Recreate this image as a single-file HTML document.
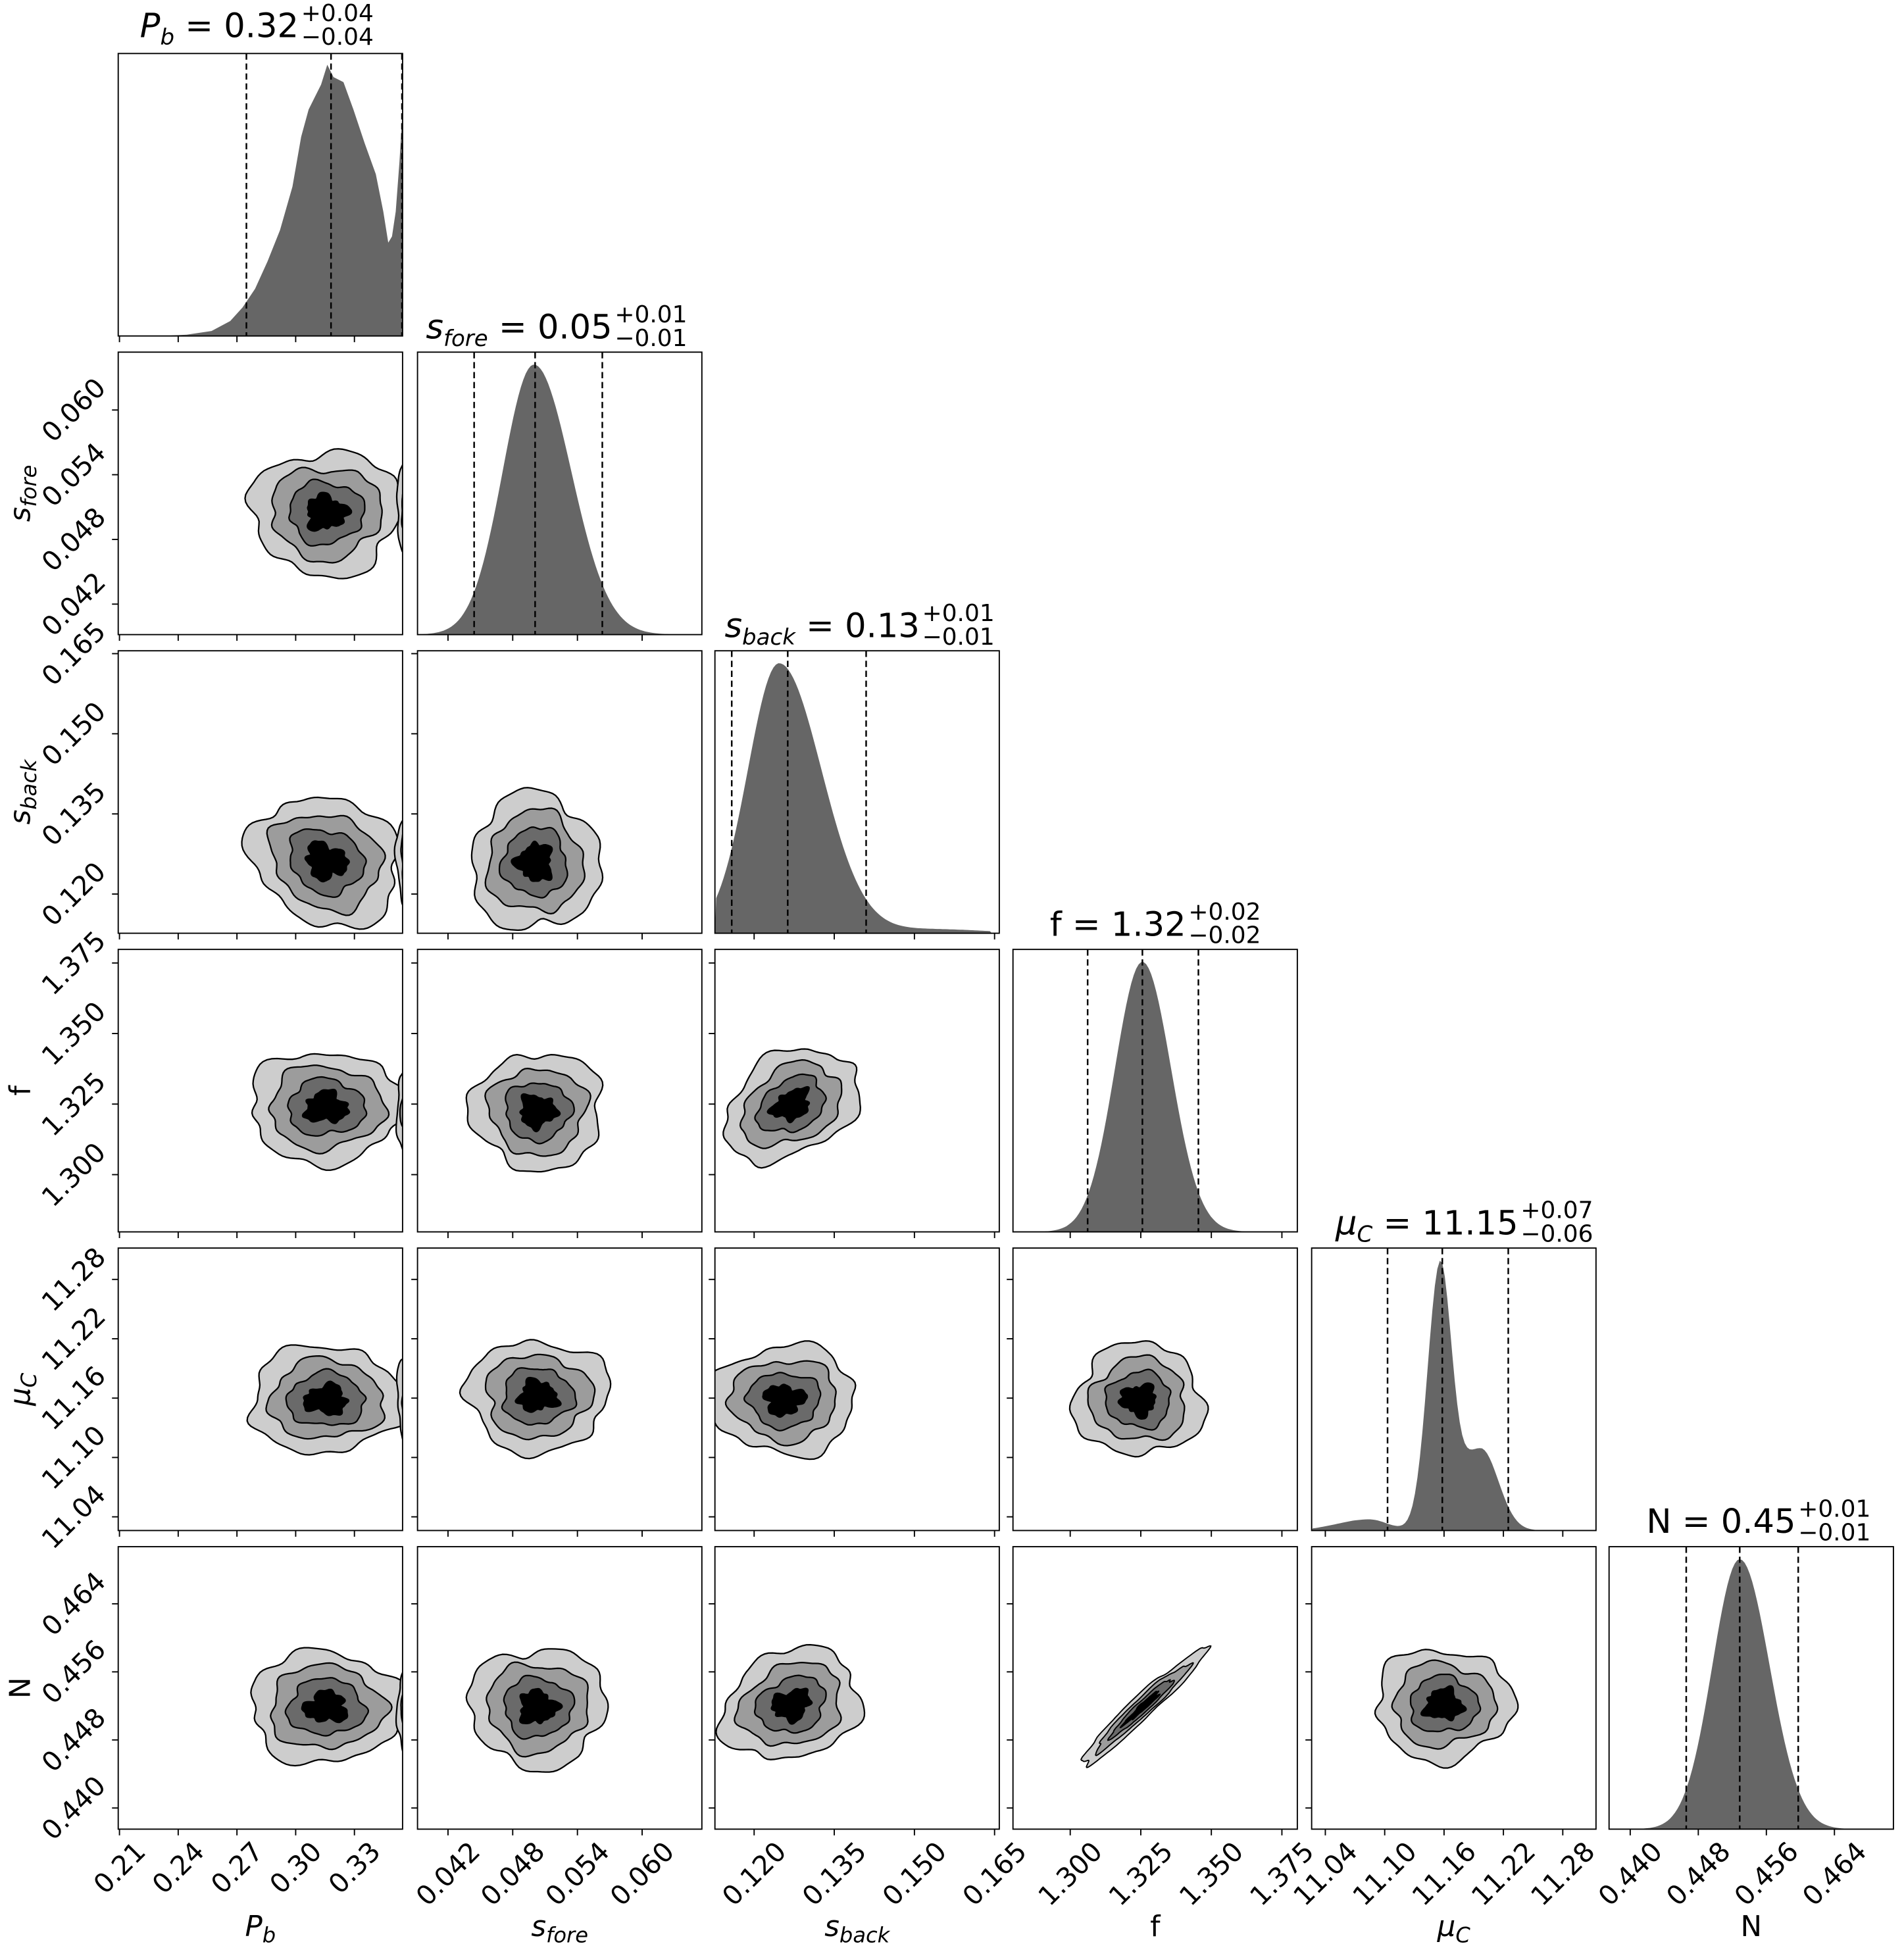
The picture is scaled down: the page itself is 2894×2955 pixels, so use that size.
<!DOCTYPE html>
<html><head><meta charset="utf-8"><style>html,body{margin:0;padding:0;background:#fff}svg{display:block}</style></head>
<body>
<svg id="s" xmlns="http://www.w3.org/2000/svg" width="2894" height="2955" viewBox="0 0 1530 1562.3" preserveAspectRatio="none" font-family="'DejaVu Sans','Liberation Sans',sans-serif"></svg>
<script>
const S=document.getElementById('s');let out='';
const X0=[95,335.5,574.5,814,1054,1293],Y0=[43,283,523,763,1003,1243],W=228.5,H=227;
const T=[
 {o:1,st:47.2,l:['0.21','0.24','0.27','0.30','0.33']},
 {o:24.5,st:52,l:['0.042','0.048','0.054','0.060']},
 {o:31.5,st:64.4,l:['0.120','0.135','0.150','0.165']},
 {o:46,st:56.7,l:['1.300','1.325','1.350','1.375']},
 {o:11,st:47.7,l:['11.04','11.10','11.16','11.22','11.28']},
 {o:17,st:54.7,l:['0.440','0.448','0.456','0.464']}];
const FS=21.5;
function tw(s){let w=0;for(const c of s)w+=(c=='.'?0.318:0.636);return w*FS;}
out+='<defs>';
for(let r=0;r<6;r++)for(let c=0;c<=r;c++)out+=`<clipPath id="c${r}${c}"><rect x="${X0[c]}" y="${Y0[r]}" width="${W}" height="${H}"/></clipPath>`;
out+='</defs>';
function noise(t,s){return 1+0.07*Math.sin(3*t+s)+0.05*Math.sin(5*t+2.3*s)+0.035*Math.sin(8*t+1.7*s)+0.02*Math.sin(13*t+s*0.7);}
function blob(cx,cy,rx,ry,rot,k,s){let p='';const a=rot*Math.PI/180;const amp=k<0.3?2.2:1;for(let i=0;i<=120;i++){const t=i/120*2*Math.PI;const n=1+(noise(t,s+k*3.1)-1)*amp;let x=rx*k*n*Math.cos(t),y=ry*k*n*Math.sin(t);const X=cx+x*Math.cos(a)-y*Math.sin(a),Y=cy+x*Math.sin(a)+y*Math.cos(a);p+=(i?'L':'M')+X.toFixed(1)+' '+Y.toFixed(1);}return p+'Z';}
const cols=['#cdcdcd','#9c9c9c','#6a6a6a','#000'],ks=[1,0.74,0.5,0.27];
function contour(cx,cy,rx,ry,rot,s,clip,sw){let g=`<g clip-path="url(#${clip})">`;for(let i=0;i<4;i++)g+=`<path d="${blob(cx,cy,rx,ry,rot,ks[i],s)}" fill="${cols[i]}" stroke="#000" stroke-width="${sw||1.2}"/>`;return g+'</g>';}
const B=[
[0,1,262,412,60,50,0],[0,2,262,692,62,50,25],[1,2,430,693,52,55,0],
[0,3,262,890,62,45,0],[1,3,432,893,53,47,0],[2,3,636,888,58,40,-30],
[0,4,262,1125,62,43,0],[1,4,432,1122,57,45,0],[2,4,630,1125,58,44,0],[3,4,915,1125,52,45,0],
[0,5,262,1372,62,45,0],[1,5,432,1372,55,48,0],[2,5,636,1370,57,43,-20],[3,5,918,1372,68,9,-43],[4,5,1160,1370,55,45,0]];
B.forEach((b,i)=>{const[c,r,cx,cy,rx,ry,rot]=b;out+=contour(cx,cy,rx,ry,rot,i*1.7+0.5,'c'+r+c,r==5&&c==3?1:1.2);
 if(c==0)out+=contour(333,cy,14,ry*0.95,0,i,'c'+r+c);});
function g(x,m,sl,sr){const s=x<m?sl:sr;return Math.exp(-0.5*((x-m)/s)**2);}
const P1=[[95,270],[130,270],[150,269],[170,266],[185,258],[195,247],[205,232],[215,210],[225,185],[235,150],[242,110],[248,88],[253,78],[258,68],[263,52],[268,62],[276,66],[284,88],[293,115],[302,140],[308,170],[312,195],[315,190],[318,170],[321,130],[324,80],[324,270]];
const hf=[null,
 x=>g(x,429,25,30),
 x=>g(x,626,25,34)+0.015*g(x,750,40,40),
 x=>g(x,918,22,23),
 x=>g(x,1157,10,9)+0.33*g(x,1190,20,14)+0.045*g(x,1100,25,15),
 x=>g(x,1398,22,24)];
function hist(c,r){const x0=X0[c],y0=Y0[r],yb=y0+H;let d;
 if(c==0){d='M'+P1.map(p=>p.join(' ')).join('L')+'Z';}
 else{const f=hf[c];let mx=0;for(let x=x0;x<=x0+W;x++)mx=Math.max(mx,f(x));d=`M${x0} ${yb}`;
  for(let x=x0+1;x<=x0+W-6;x+=2){const h=f(x)/mx*(H-10);d+=`L${x} ${(yb-h).toFixed(1)}`;}d+=`L${x0+W-6} ${yb}Z`;}
 return `<path d="${d}" fill="#666"/>`;}
const DL=[[198,266,323],[381,430,484],[588,633,696],[874,918,963],[1115,1159,1212],[1355,1398,1445]];
for(let i=0;i<6;i++){out+=`<g clip-path="url(#c${i}${i})">`+hist(i,i)+'</g>';
 DL[i].forEach(x=>out+=`<line x1="${x}" y1="${Y0[i]}" x2="${x}" y2="${Y0[i]+H}" stroke="#000" stroke-width="1.3" stroke-dasharray="5,3"/>`);}
for(let r=0;r<6;r++)for(let c=0;c<=r;c++){const x0=X0[c],y0=Y0[r];
 out+=`<rect x="${x0}" y="${y0}" width="${W}" height="${H}" fill="none" stroke="#000" stroke-width="1"/>`;
 T[c].l.forEach((l,i)=>{const x=x0+T[c].o+i*T[c].st;out+=`<line x1="${x}" y1="${y0+H}" x2="${x}" y2="${y0+H+5}" stroke="#000" stroke-width="1"/>`;
  if(r==5){const w=(tw(l)+FS*0.8)*0.707;out+=`<text x="${x}" y="${y0+H+8+w/2}" font-size="${FS}" text-anchor="middle" dominant-baseline="central" transform="rotate(-45 ${x} ${y0+H+8+w/2})">${l}</text>`;}});
 if(c!=r){T[r].l.forEach((l,i)=>{const y=y0+H-T[r].o-i*T[r].st;out+=`<line x1="${x0-5}" y1="${y}" x2="${x0}" y2="${y}" stroke="#000" stroke-width="1"/>`;
  if(c==0){const w=(tw(l)+FS*0.8)*0.707;const cx=x0-8-w/2;out+=`<text x="${cx}" y="${y}" font-size="${FS}" text-anchor="middle" dominant-baseline="central" transform="rotate(-45 ${cx} ${y})">${l}</text>`;}});}
}
const TT=[['<tspan font-style="italic">P</tspan><tspan font-style="italic" font-size="18" dy="6">b</tspan><tspan dy="-6"> = 0.32</tspan>',240,30,'0.04','0.04'],
['<tspan font-style="italic">s</tspan><tspan font-style="italic" font-size="18" dy="6">fore</tspan><tspan dy="-6"> = 0.05</tspan>',492,272,'0.01','0.01'],
['<tspan font-style="italic">s</tspan><tspan font-style="italic" font-size="18" dy="6">back</tspan><tspan dy="-6"> = 0.13</tspan>',739,512,'0.01','0.01'],
['f = 1.32',953,752,'0.02','0.02'],
['<tspan font-style="italic">μ</tspan><tspan font-style="italic" font-size="18" dy="6">C</tspan><tspan dy="-6"> = 11.15</tspan>',1220,992,'0.07','0.06'],
['N = 0.45',1443,1232,'0.01','0.01']];
TT.forEach(t=>{out+=`<text x="${t[1]}" y="${t[2]}" font-size="27" text-anchor="end">${t[0]}</text><text x="${t[1]+2}" y="${t[2]-13}" font-size="19">+${t[3]}</text><text x="${t[1]+2}" y="${t[2]+6}" font-size="19">−${t[4]}</text>`;});
const XL=['<tspan font-style="italic">P</tspan><tspan font-style="italic" font-size="17" dy="5">b</tspan>','<tspan font-style="italic">s</tspan><tspan font-style="italic" font-size="17" dy="5">fore</tspan>','<tspan font-style="italic">s</tspan><tspan font-style="italic" font-size="17" dy="5">back</tspan>','f','<tspan font-style="italic">μ</tspan><tspan font-style="italic" font-size="17" dy="5">C</tspan>','N'];
XL.forEach((l,i)=>{out+=`<text x="${X0[i]+W/2}" y="1556" font-size="23" text-anchor="middle">${l}</text>`;});
for(let r=1;r<6;r++){const y=Y0[r]+H/2,x=24;out+=`<text x="${x}" y="${y}" font-size="23" text-anchor="middle" transform="rotate(-90 ${x} ${y})">${XL[r]}</text>`;}
S.innerHTML=out;
</script>
</body></html>
